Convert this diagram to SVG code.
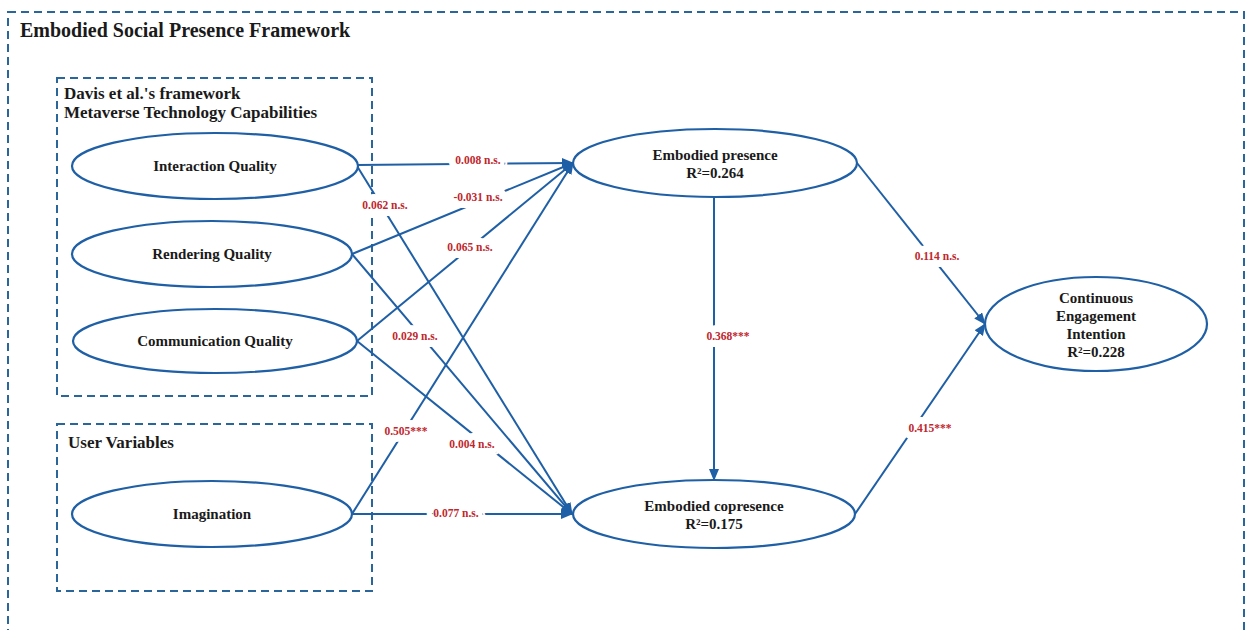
<svg xmlns="http://www.w3.org/2000/svg" width="1251" height="630" viewBox="0 0 1251 630">
<defs>
<style>
.dash{fill:none;stroke:#2a6699;stroke-width:2;stroke-dasharray:8,5}
.node{fill:#fff;stroke:#1f5fa5;stroke-width:2.2}
.nt{font-family:"Liberation Serif",serif;font-weight:bold;font-size:15px;fill:#1a1a1a;text-anchor:middle}
.hd{font-family:"Liberation Serif",serif;font-weight:bold;fill:#1a1a1a}
.edge{stroke:#1f5fa5;stroke-width:2;fill:none;marker-end:url(#ah)}
.lb{font-family:"Liberation Serif",serif;font-weight:bold;font-size:11.5px;fill:#c0272d;text-anchor:middle;paint-order:stroke;stroke:#fff;stroke-width:14px;stroke-linejoin:round}
</style>
<marker id="ah" viewBox="0 0 12 10" refX="11" refY="5" markerWidth="12" markerHeight="10" markerUnits="userSpaceOnUse" orient="auto">
<path d="M0,0 L12,5 L0,10 Z" fill="#1f5fa5"/>
</marker>
</defs>
<rect width="1251" height="630" fill="#fff"/>
<g id="frames">
<rect class="dash" x="8" y="12" width="1236" height="630"/>
<text class="hd" x="20" y="37" font-size="20">Embodied Social Presence Framework</text>
<rect class="dash" x="57" y="78" width="315" height="318"/>
<text class="hd" x="64" y="99" font-size="17">Davis et al.'s framework</text>
<text class="hd" x="64" y="118" font-size="17">Metaverse Technology Capabilities</text>
<rect class="dash" x="57" y="424" width="315" height="167"/>
<text class="hd" x="68" y="448" font-size="17">User Variables</text>
</g>
<g id="connectors">
<line class="edge" x1="357" y1="165" x2="573" y2="163"/>
<line class="edge" x1="357" y1="166" x2="572" y2="514"/>
<line class="edge" x1="352" y1="254" x2="573" y2="163"/>
<line class="edge" x1="352" y1="254" x2="572" y2="514"/>
<line class="edge" x1="357" y1="341" x2="573" y2="163"/>
<line class="edge" x1="357" y1="341" x2="572" y2="514"/>
<line class="edge" x1="352" y1="514" x2="573" y2="163"/>
<line class="edge" x1="352" y1="514" x2="572" y2="514"/>
<line class="edge" x1="714" y1="197" x2="714" y2="480"/>
<line class="edge" x1="857" y1="163" x2="985" y2="324"/>
<line class="edge" x1="855" y1="514" x2="985" y2="324"/>
<text class="lb" x="478" y="164">0.008 n.s.</text>
<text class="lb" x="385" y="209">0.062 n.s.</text>
<text class="lb" x="478" y="201">-0.031 n.s.</text>
<text class="lb" x="470" y="251">0.065 n.s.</text>
<text class="lb" x="415" y="340">0.029 n.s.</text>
<text class="lb" x="472" y="448">0.004 n.s.</text>
<text class="lb" x="406" y="435">0.505***</text>
<text class="lb" x="456" y="517">0.077 n.s.</text>
<text class="lb" x="728" y="340">0.368***</text>
<text class="lb" x="937" y="260">0.114 n.s.</text>
<text class="lb" x="930" y="432">0.415***</text>
</g>
<g id="interaction-quality">
<ellipse class="node" cx="215" cy="166" rx="143" ry="33"/>
<text class="nt" x="215" y="171">Interaction Quality</text>
</g>
<g id="rendering-quality">
<ellipse class="node" cx="212" cy="254" rx="140" ry="33"/>
<text class="nt" x="212" y="259">Rendering Quality</text>
</g>
<g id="communication-quality">
<ellipse class="node" cx="215" cy="341" rx="142" ry="32"/>
<text class="nt" x="215" y="346">Communication Quality</text>
</g>
<g id="imagination">
<ellipse class="node" cx="212" cy="514" rx="140" ry="33"/>
<text class="nt" x="212" y="519">Imagination</text>
</g>
<g id="embodied-presence">
<ellipse class="node" cx="715" cy="163" rx="142" ry="34"/>
<text class="nt" x="715" y="160">Embodied presence</text>
<text class="nt" x="715" y="178">R²=0.264</text>
</g>
<g id="embodied-copresence">
<ellipse class="node" cx="714" cy="514" rx="141" ry="34"/>
<text class="nt" x="714" y="511">Embodied copresence</text>
<text class="nt" x="714" y="529">R²=0.175</text>
</g>
<g id="continuous-engagement-intention">
<ellipse class="node" cx="1096" cy="324" rx="111" ry="47"/>
<text class="nt" x="1096" y="303">Continuous</text>
<text class="nt" x="1096" y="321">Engagement</text>
<text class="nt" x="1096" y="339">Intention</text>
<text class="nt" x="1096" y="357">R²=0.228</text>
</g>
</svg>
